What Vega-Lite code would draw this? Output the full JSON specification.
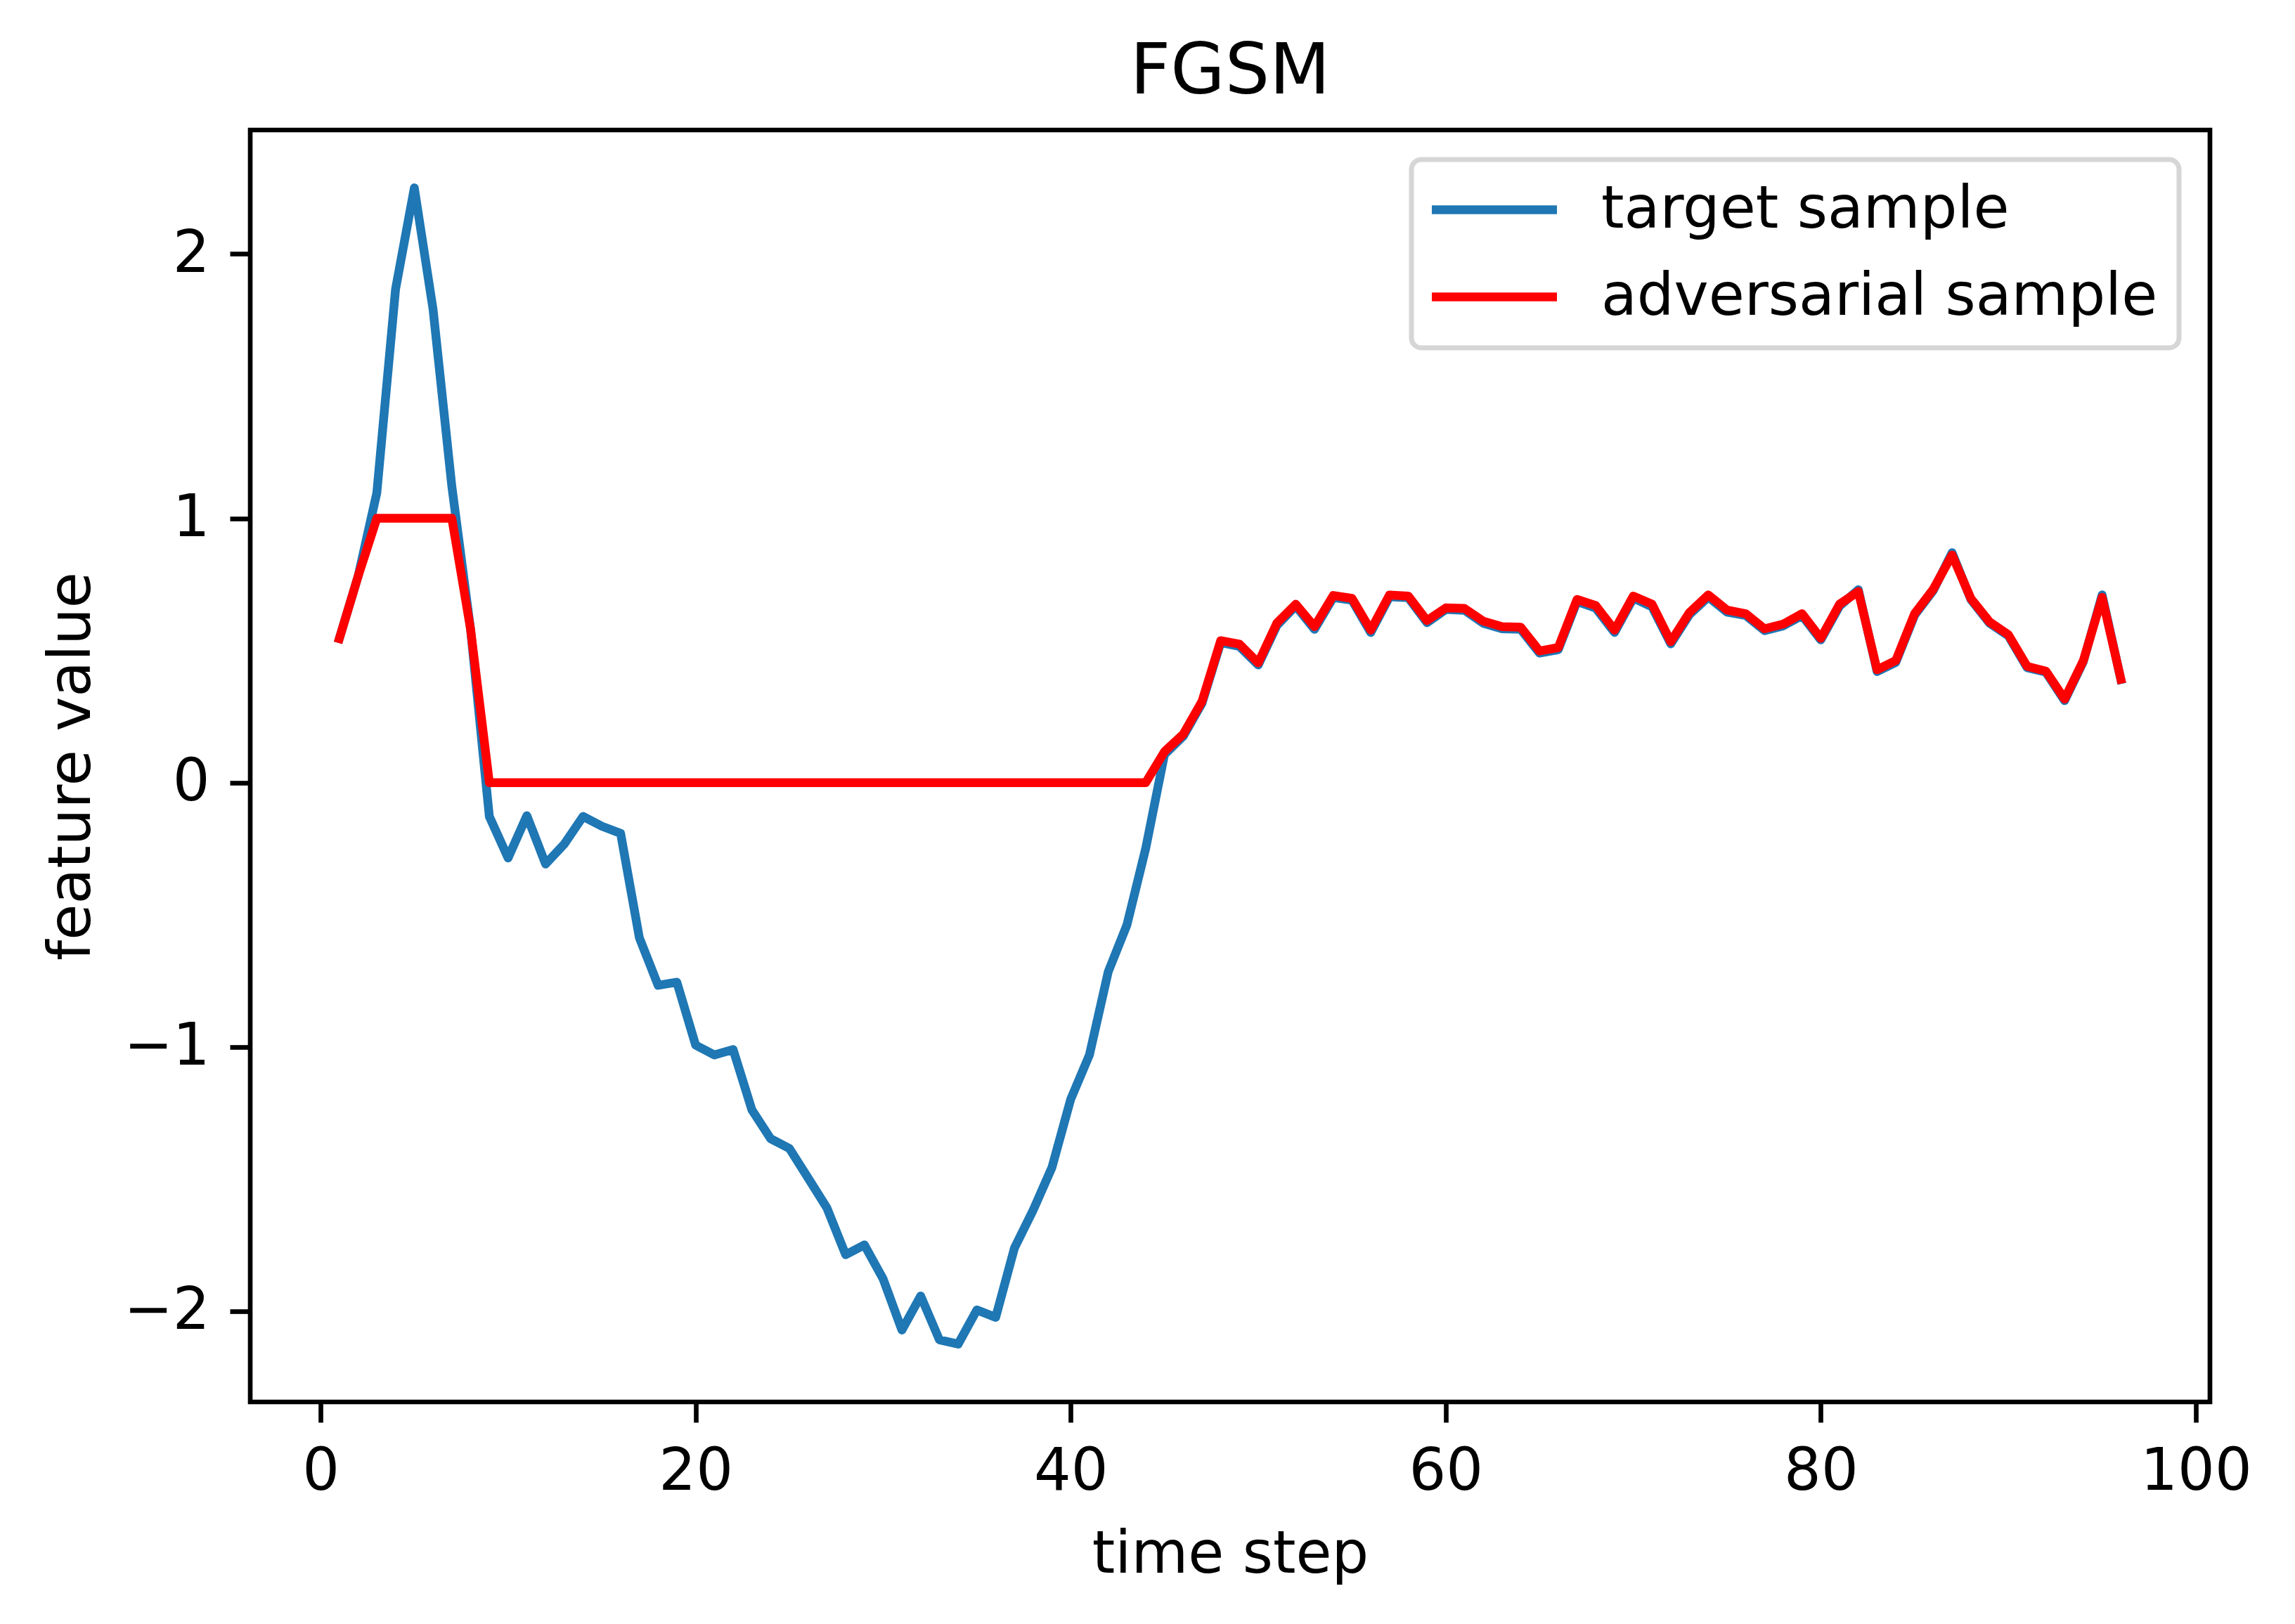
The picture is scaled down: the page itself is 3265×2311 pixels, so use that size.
{
  "$schema": "https://vega.github.io/schema/vega-lite/v6.json",
  "width": 2788,
  "height": 1810,
  "autosize": {"type": "none"},
  "padding": {"left": 356, "top": 185, "right": 121, "bottom": 316},
  "background": "white",
  "title": {"text": "FGSM", "fontSize": 100, "font": "DejaVu Sans", "fontWeight": "normal", "color": "black", "offset": -48, "anchor": "middle", "baseline": "alphabetic"},
  "config": {
    "view": {"stroke": "black", "strokeWidth": 6.67},
    "axis": {"domain": false, "grid": false, "tickColor": "black", "tickWidth": 6.67, "tickSize": 29, "labelPadding": 29, "labelFont": "DejaVu Sans", "labelFontSize": 83, "labelColor": "black", "titleFont": "DejaVu Sans", "titleFontSize": 83, "titleFontWeight": "normal", "titleColor": "black"}
  },
  "data": {"values": [
    {"t":1,"v":0.545,"s":"target sample"},{"t":2,"v":0.78,"s":"target sample"},{"t":3,"v":1.096,"s":"target sample"},{"t":4,"v":1.867,"s":"target sample"},{"t":5,"v":2.25,"s":"target sample"},{"t":6,"v":1.79,"s":"target sample"},{"t":7,"v":1.121,"s":"target sample"},{"t":8,"v":0.58,"s":"target sample"},{"t":9,"v":-0.128,"s":"target sample"},{"t":10,"v":-0.285,"s":"target sample"},
    {"t":11,"v":-0.125,"s":"target sample"},{"t":12,"v":-0.308,"s":"target sample"},{"t":13,"v":-0.232,"s":"target sample"},{"t":14,"v":-0.128,"s":"target sample"},{"t":15,"v":-0.165,"s":"target sample"},{"t":16,"v":-0.192,"s":"target sample"},{"t":17,"v":-0.587,"s":"target sample"},{"t":18,"v":-0.767,"s":"target sample"},{"t":19,"v":-0.755,"s":"target sample"},{"t":20,"v":-0.993,"s":"target sample"},
    {"t":21,"v":-1.03,"s":"target sample"},{"t":22,"v":-1.01,"s":"target sample"},{"t":23,"v":-1.238,"s":"target sample"},{"t":24,"v":-1.347,"s":"target sample"},{"t":25,"v":-1.384,"s":"target sample"},{"t":26,"v":-1.496,"s":"target sample"},{"t":27,"v":-1.609,"s":"target sample"},{"t":28,"v":-1.786,"s":"target sample"},{"t":29,"v":-1.749,"s":"target sample"},{"t":30,"v":-1.878,"s":"target sample"},
    {"t":31,"v":-2.071,"s":"target sample"},{"t":32,"v":-1.942,"s":"target sample"},{"t":33,"v":-2.108,"s":"target sample"},{"t":34,"v":-2.124,"s":"target sample"},{"t":35,"v":-1.995,"s":"target sample"},{"t":36,"v":-2.023,"s":"target sample"},{"t":37,"v":-1.761,"s":"target sample"},{"t":38,"v":-1.617,"s":"target sample"},{"t":39,"v":-1.456,"s":"target sample"},{"t":40,"v":-1.198,"s":"target sample"},
    {"t":41,"v":-1.03,"s":"target sample"},{"t":42,"v":-0.716,"s":"target sample"},{"t":43,"v":-0.538,"s":"target sample"},{"t":44,"v":-0.249,"s":"target sample"},{"t":45,"v":0.106,"s":"target sample"},{"t":46,"v":0.175,"s":"target sample"},{"t":47,"v":0.3,"s":"target sample"},{"t":48,"v":0.53,"s":"target sample"},{"t":49,"v":0.515,"s":"target sample"},{"t":50,"v":0.445,"s":"target sample"},
    {"t":51,"v":0.595,"s":"target sample"},{"t":52,"v":0.668,"s":"target sample"},{"t":53,"v":0.58,"s":"target sample"},{"t":54,"v":0.7,"s":"target sample"},{"t":55,"v":0.69,"s":"target sample"},{"t":56,"v":0.568,"s":"target sample"},{"t":57,"v":0.703,"s":"target sample"},{"t":58,"v":0.7,"s":"target sample"},{"t":59,"v":0.605,"s":"target sample"},{"t":60,"v":0.655,"s":"target sample"},
    {"t":61,"v":0.652,"s":"target sample"},{"t":62,"v":0.603,"s":"target sample"},{"t":63,"v":0.582,"s":"target sample"},{"t":64,"v":0.58,"s":"target sample"},{"t":65,"v":0.49,"s":"target sample"},{"t":66,"v":0.503,"s":"target sample"},{"t":67,"v":0.685,"s":"target sample"},{"t":68,"v":0.66,"s":"target sample"},{"t":69,"v":0.568,"s":"target sample"},{"t":70,"v":0.698,"s":"target sample"},
    {"t":71,"v":0.665,"s":"target sample"},{"t":72,"v":0.525,"s":"target sample"},{"t":73,"v":0.636,"s":"target sample"},{"t":74,"v":0.702,"s":"target sample"},{"t":75,"v":0.645,"s":"target sample"},{"t":76,"v":0.632,"s":"target sample"},{"t":77,"v":0.575,"s":"target sample"},{"t":78,"v":0.593,"s":"target sample"},{"t":79,"v":0.632,"s":"target sample"},{"t":80,"v":0.54,"s":"target sample"},
    {"t":81,"v":0.668,"s":"target sample"},{"t":82,"v":0.73,"s":"target sample"},{"t":83,"v":0.42,"s":"target sample"},{"t":84,"v":0.455,"s":"target sample"},{"t":85,"v":0.633,"s":"target sample"},{"t":86,"v":0.727,"s":"target sample"},{"t":87,"v":0.87,"s":"target sample"},{"t":88,"v":0.693,"s":"target sample"},{"t":89,"v":0.603,"s":"target sample"},{"t":90,"v":0.555,"s":"target sample"},
    {"t":91,"v":0.435,"s":"target sample"},{"t":92,"v":0.418,"s":"target sample"},{"t":93,"v":0.31,"s":"target sample"},{"t":94,"v":0.458,"s":"target sample"},{"t":95,"v":0.71,"s":"target sample"},{"t":96,"v":0.39,"s":"target sample"},
    {"t":1,"v":0.545,"s":"adversarial sample"},{"t":2,"v":0.78,"s":"adversarial sample"},{"t":3,"v":1.0,"s":"adversarial sample"},{"t":4,"v":1.0,"s":"adversarial sample"},{"t":5,"v":1.0,"s":"adversarial sample"},{"t":6,"v":1.0,"s":"adversarial sample"},{"t":7,"v":1.0,"s":"adversarial sample"},{"t":8,"v":0.58,"s":"adversarial sample"},{"t":9,"v":0,"s":"adversarial sample"},{"t":10,"v":0,"s":"adversarial sample"},
    {"t":11,"v":0,"s":"adversarial sample"},{"t":12,"v":0,"s":"adversarial sample"},{"t":13,"v":0,"s":"adversarial sample"},{"t":14,"v":0,"s":"adversarial sample"},{"t":15,"v":0,"s":"adversarial sample"},{"t":16,"v":0,"s":"adversarial sample"},{"t":17,"v":0,"s":"adversarial sample"},{"t":18,"v":0,"s":"adversarial sample"},{"t":19,"v":0,"s":"adversarial sample"},{"t":20,"v":0,"s":"adversarial sample"},
    {"t":21,"v":0,"s":"adversarial sample"},{"t":22,"v":0,"s":"adversarial sample"},{"t":23,"v":0,"s":"adversarial sample"},{"t":24,"v":0,"s":"adversarial sample"},{"t":25,"v":0,"s":"adversarial sample"},{"t":26,"v":0,"s":"adversarial sample"},{"t":27,"v":0,"s":"adversarial sample"},{"t":28,"v":0,"s":"adversarial sample"},{"t":29,"v":0,"s":"adversarial sample"},{"t":30,"v":0,"s":"adversarial sample"},
    {"t":31,"v":0,"s":"adversarial sample"},{"t":32,"v":0,"s":"adversarial sample"},{"t":33,"v":0,"s":"adversarial sample"},{"t":34,"v":0,"s":"adversarial sample"},{"t":35,"v":0,"s":"adversarial sample"},{"t":36,"v":0,"s":"adversarial sample"},{"t":37,"v":0,"s":"adversarial sample"},{"t":38,"v":0,"s":"adversarial sample"},{"t":39,"v":0,"s":"adversarial sample"},{"t":40,"v":0,"s":"adversarial sample"},
    {"t":41,"v":0,"s":"adversarial sample"},{"t":42,"v":0,"s":"adversarial sample"},{"t":43,"v":0,"s":"adversarial sample"},{"t":44,"v":0,"s":"adversarial sample"},{"t":45,"v":0.117,"s":"adversarial sample"},{"t":46,"v":0.183,"s":"adversarial sample"},{"t":47,"v":0.307,"s":"adversarial sample"},{"t":48,"v":0.537,"s":"adversarial sample"},{"t":49,"v":0.524,"s":"adversarial sample"},{"t":50,"v":0.453,"s":"adversarial sample"},
    {"t":51,"v":0.604,"s":"adversarial sample"},{"t":52,"v":0.675,"s":"adversarial sample"},{"t":53,"v":0.59,"s":"adversarial sample"},{"t":54,"v":0.708,"s":"adversarial sample"},{"t":55,"v":0.697,"s":"adversarial sample"},{"t":56,"v":0.577,"s":"adversarial sample"},{"t":57,"v":0.71,"s":"adversarial sample"},{"t":58,"v":0.706,"s":"adversarial sample"},{"t":59,"v":0.613,"s":"adversarial sample"},{"t":60,"v":0.661,"s":"adversarial sample"},
    {"t":61,"v":0.659,"s":"adversarial sample"},{"t":62,"v":0.611,"s":"adversarial sample"},{"t":63,"v":0.59,"s":"adversarial sample"},{"t":64,"v":0.588,"s":"adversarial sample"},{"t":65,"v":0.498,"s":"adversarial sample"},{"t":66,"v":0.511,"s":"adversarial sample"},{"t":67,"v":0.693,"s":"adversarial sample"},{"t":68,"v":0.67,"s":"adversarial sample"},{"t":69,"v":0.577,"s":"adversarial sample"},{"t":70,"v":0.706,"s":"adversarial sample"},
    {"t":71,"v":0.675,"s":"adversarial sample"},{"t":72,"v":0.533,"s":"adversarial sample"},{"t":73,"v":0.644,"s":"adversarial sample"},{"t":74,"v":0.71,"s":"adversarial sample"},{"t":75,"v":0.653,"s":"adversarial sample"},{"t":76,"v":0.639,"s":"adversarial sample"},{"t":77,"v":0.582,"s":"adversarial sample"},{"t":78,"v":0.6,"s":"adversarial sample"},{"t":79,"v":0.639,"s":"adversarial sample"},{"t":80,"v":0.546,"s":"adversarial sample"},
    {"t":81,"v":0.675,"s":"adversarial sample"},{"t":82,"v":0.723,"s":"adversarial sample"},{"t":83,"v":0.427,"s":"adversarial sample"},{"t":84,"v":0.462,"s":"adversarial sample"},{"t":85,"v":0.639,"s":"adversarial sample"},{"t":86,"v":0.732,"s":"adversarial sample"},{"t":87,"v":0.861,"s":"adversarial sample"},{"t":88,"v":0.697,"s":"adversarial sample"},{"t":89,"v":0.608,"s":"adversarial sample"},{"t":90,"v":0.56,"s":"adversarial sample"},
    {"t":91,"v":0.44,"s":"adversarial sample"},{"t":92,"v":0.422,"s":"adversarial sample"},{"t":93,"v":0.316,"s":"adversarial sample"},{"t":94,"v":0.462,"s":"adversarial sample"},{"t":95,"v":0.701,"s":"adversarial sample"},{"t":96,"v":0.391,"s":"adversarial sample"}
  ]},
  "encoding": {
    "x": {"field": "t", "type": "quantitative", "scale": {"domain": [-3.75, 100.75], "nice": false, "zero": false}, "axis": {"values": [0, 20, 40, 60, 80, 100], "title": "time step", "format": "d", "titlePadding": 35}},
    "y": {"field": "v", "type": "quantitative", "scale": {"domain": [-2.343, 2.469], "nice": false, "zero": false}, "axis": {"values": [-2, -1, 0, 1, 2], "title": "feature value", "format": "d", "titlePadding": 31}},
    "color": {"field": "s", "type": "nominal", "scale": {"domain": ["target sample", "adversarial sample"], "range": ["#1f77b4", "#ff0000"]},
      "legend": {"title": null, "orient": "none", "legendX": 1652, "legendY": 42, "direction": "vertical", "symbolType": "M-1.7,0L5.42,0", "symbolSize": 2500, "symbolStrokeWidth": 12.5, "labelFont": "DejaVu Sans", "labelFontSize": 83, "labelColor": "black", "labelOffset": 157, "labelLimit": 3000, "rowPadding": 40, "padding": 30, "strokeColor": "#d6d6d6", "fillColor": "white", "cornerRadius": 14,
        "encode": {"legend": {"update": {"strokeWidth": {"value": 7}}}}}}
  },
  "layer": [
    {"transform": [{"filter": "datum.s == 'target sample'"}], "mark": {"type": "line", "strokeWidth": 12.5, "strokeJoin": "round", "strokeCap": "square"}},
    {"transform": [{"filter": "datum.s == 'adversarial sample'"}], "mark": {"type": "line", "strokeWidth": 12.5, "strokeJoin": "round", "strokeCap": "square"}}
  ]
}
